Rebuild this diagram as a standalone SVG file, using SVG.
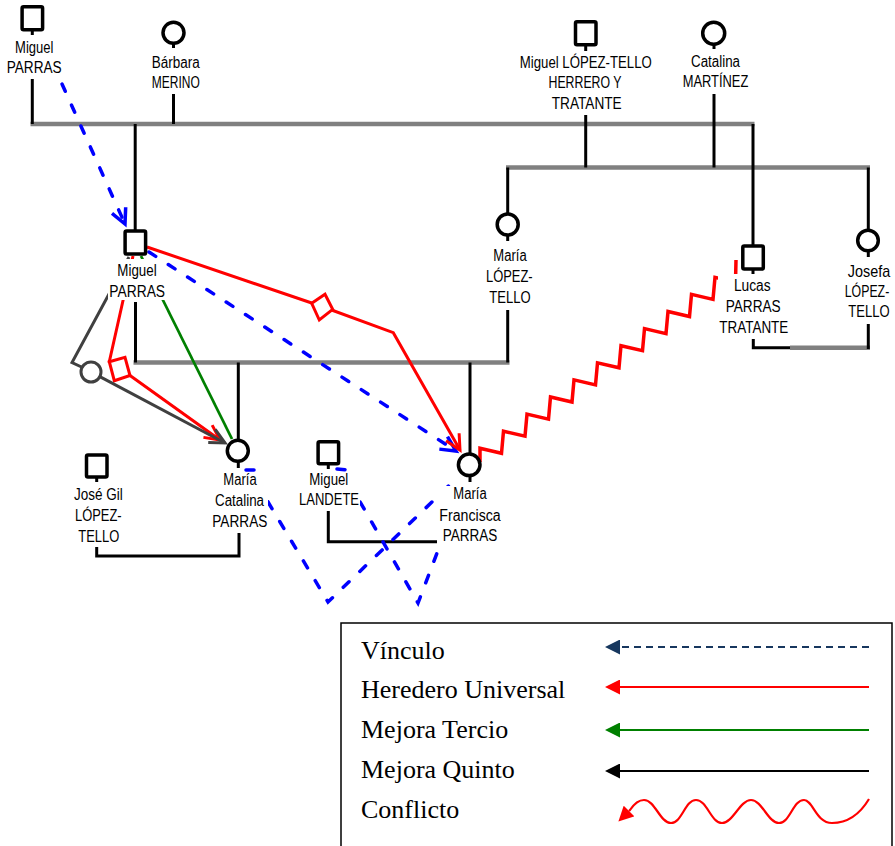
<svg xmlns="http://www.w3.org/2000/svg" width="895" height="846" viewBox="0 0 895 846">
<style>
.lbl{font-family:"Liberation Sans",Arial,sans-serif;font-size:16px;fill:#000;text-anchor:middle}
.leg{font-family:"Liberation Serif","Times New Roman",serif;font-size:26px;fill:#000}
.gl{stroke:#808080;stroke-width:4.5;fill:none}
.bl{stroke:#000;stroke-width:3;fill:none}
.sq{fill:#fff;stroke:#000;stroke-width:3.5}
.ci{fill:#fff;stroke:#000;stroke-width:3.5}
.bg{fill:#fff}
.blue{stroke:#0000ff;stroke-width:3.5;stroke-dasharray:8 15;stroke-linecap:round;fill:none}
.red{stroke:#ff0000;stroke-width:3;fill:none}
.zig{stroke:#ff0000;stroke-width:3.5;fill:none}
.green{stroke:#008000;stroke-width:2.8;fill:none}
.dg{stroke:#404040;stroke-width:3;fill:none}
.lgl{stroke-width:2.2;fill:none}
</style>
<defs>
<marker id="vBlue" markerUnits="userSpaceOnUse" viewBox="-3 -3 21 21" markerWidth="21" markerHeight="21" refX="15" refY="7.5" orient="auto" overflow="visible"><path d="M0,0 L15,7.5 L0,15" fill="none" stroke="#0000ff" stroke-width="3.5" stroke-dasharray="none"/></marker>
<marker id="vRed" markerUnits="userSpaceOnUse" viewBox="-3 -3 21 21" markerWidth="21" markerHeight="21" refX="15" refY="7.5" orient="auto" overflow="visible"><path d="M0,0 L15,7.5 L0,15" fill="none" stroke="#ff0000" stroke-width="3"/></marker>
<marker id="vGray" markerUnits="userSpaceOnUse" viewBox="-3 -3 21 21" markerWidth="21" markerHeight="21" refX="15" refY="7.5" orient="auto" overflow="visible"><path d="M0,0 L15,7.5 L0,15" fill="none" stroke="#404040" stroke-width="3"/></marker>
<marker id="tNavy" markerUnits="userSpaceOnUse" viewBox="0 0 15 15" markerWidth="15" markerHeight="15" refX="0" refY="7.5" orient="auto"><path d="M0,0 L15,7.5 L0,15 z" fill="#17375e"/></marker>
<marker id="tRed" markerUnits="userSpaceOnUse" viewBox="0 0 15 15" markerWidth="15" markerHeight="15" refX="0" refY="7.5" orient="auto"><path d="M0,0 L15,7.5 L0,15 z" fill="#ff0000"/></marker>
<marker id="tGreen" markerUnits="userSpaceOnUse" viewBox="0 0 15 15" markerWidth="15" markerHeight="15" refX="0" refY="7.5" orient="auto"><path d="M0,0 L15,7.5 L0,15 z" fill="#008000"/></marker>
<marker id="tBlack" markerUnits="userSpaceOnUse" viewBox="0 0 15 15" markerWidth="15" markerHeight="15" refX="0" refY="7.5" orient="auto"><path d="M0,0 L15,7.5 L0,15 z" fill="#000"/></marker>
</defs>

<g id="connectors">
  <g id="kinship">
    <line class="gl" x1="30.5" y1="124" x2="754.5" y2="124"/>
    <line class="gl" x1="506" y1="167.5" x2="870" y2="167.5"/>
    <line class="gl" x1="133.5" y1="362.5" x2="509.5" y2="362.5"/>
    <line class="gl" x1="790" y1="347.7" x2="870" y2="347.7"/>
    <line class="bl" x1="32.3" y1="79" x2="32.3" y2="124"/>
    <line class="bl" x1="173.5" y1="94" x2="173.5" y2="124"/>
    <line class="bl" x1="135.2" y1="124" x2="135.2" y2="230"/>
    <line class="bl" x1="585.7" y1="115" x2="585.7" y2="167.5"/>
    <line class="bl" x1="714" y1="94" x2="714" y2="167.5"/>
    <line class="bl" x1="753" y1="124" x2="753" y2="245"/>
    <line class="bl" x1="507.7" y1="167.5" x2="507.7" y2="213"/>
    <line class="bl" x1="868.3" y1="167.5" x2="868.3" y2="229"/>
    <line class="bl" x1="507.7" y1="310" x2="507.7" y2="362.5"/>
    <line class="bl" x1="135.5" y1="302" x2="135.5" y2="362.5"/>
    <line class="bl" x1="238.3" y1="362.5" x2="238.3" y2="440"/>
    <line class="bl" x1="470" y1="362.5" x2="470" y2="454"/>
    <polyline class="bl" points="753.3,339 753.3,347.7 790,347.7"/>
    <line class="bl" x1="868.3" y1="324" x2="868.3" y2="349"/>
    <polyline class="bl" points="96.7,547 96.7,556 239,556 239,533"/>
    <polyline class="bl" points="328.3,511 328.3,541.7 437,541.7"/>
  </g>
  <g id="relations">
    <path class="blue" d="M62,84 L125,224" marker-end="url(#vBlue)"/>
    <path class="blue" d="M149,252 L456,451" marker-end="url(#vBlue)"/>
    <path class="blue" d="M246,470 L259,470 L268,502 L328,602 L459,476"/>
    <path class="blue" d="M337,469 L349,470 L359,500 L418,603 L437,553 L441,543"/>
    <path class="red" d="M147,247 L322,306.5 L393.3,332.7 L460,450" marker-end="url(#vRed)"/>
    <polygon points="311.7,303.3 325,294.3 332.7,309.3 319.3,320" fill="#fff" stroke="#ff0000" stroke-width="3"/>
    <path class="red" d="M133,256 L109.3,361.7 L120,368.5 L130,375.5 L220,440" marker-end="url(#vRed)"/>
    <polygon points="109.3,361.7 125,357.3 130,375.5 114.3,380.7" fill="#fff" stroke="#ff0000" stroke-width="3"/>
    <path class="green" d="M141,256 L232,439"/>
    <path class="dg" d="M129,257 L72,362.5 L81.5,367"/>
    <circle cx="91" cy="372" r="10" fill="#fff" stroke="#404040" stroke-width="3"/>
    <path class="dg" d="M100.3,376.9 L225,443" marker-end="url(#vGray)"/>
    <path class="zig" d="M480,462 L480,448.3 L501.5,453.3 L503.5,431.2 L525,436.2 L527,414.1 L548.5,419.1 L550.5,397 L572,402 L574,379.9 L595.5,384.9 L597.5,362.8 L619,367.8 L621,345.7 L642.5,350.7 L644.5,328.6 L666,333.6 L668,311.5 L689.5,316.5 L691.5,294.4 L713,299.4 L715,277.3 L735.5,282 L736,260"/>
  </g>
</g>

<g id="n-miguel-parras-top">
  <rect class="sq" x="22.1" y="6.8" width="20.5" height="23" rx="1.5"/>
  <line class="bl" x1="32.3" y1="30" x2="32.3" y2="35"/>
  <text class="lbl" x="34.2" y="53.3" textLength="38.3" lengthAdjust="spacingAndGlyphs">Miguel</text>
  <text class="lbl" x="34.2" y="73.3" textLength="55" lengthAdjust="spacingAndGlyphs">PARRAS</text>
</g>
<g id="n-barbara-merino">
  <circle class="ci" cx="173.5" cy="32.8" r="10.5"/>
  <line class="bl" x1="173.5" y1="43" x2="173.5" y2="48"/>
  <text class="lbl" x="175.8" y="67.7" textLength="48" lengthAdjust="spacingAndGlyphs">Bárbara</text>
  <text class="lbl" x="175.8" y="88.3" textLength="48" lengthAdjust="spacingAndGlyphs">MERINO</text>
</g>
<g id="n-miguel-lopez-tello">
  <rect class="sq" x="575.5" y="21.8" width="20.5" height="23" rx="1.5"/>
  <line class="bl" x1="585.7" y1="45" x2="585.7" y2="51"/>
  <text class="lbl" x="585.8" y="68.3" textLength="132" lengthAdjust="spacingAndGlyphs">Miguel LÓPEZ-TELLO</text>
  <text class="lbl" x="585" y="88.3" textLength="73" lengthAdjust="spacingAndGlyphs">HERRERO Y</text>
  <text class="lbl" x="586.7" y="109" textLength="70" lengthAdjust="spacingAndGlyphs">TRATANTE</text>
</g>
<g id="n-catalina-martinez">
  <circle class="ci" cx="713.7" cy="33.3" r="11"/>
  <line class="bl" x1="714" y1="44" x2="714" y2="49"/>
  <text class="lbl" x="715.5" y="66.7" textLength="49" lengthAdjust="spacingAndGlyphs">Catalina</text>
  <text class="lbl" x="715.5" y="87.3" textLength="65.7" lengthAdjust="spacingAndGlyphs">MARTÍNEZ</text>
</g>
<g id="n-maria-lopez-tello">
  <circle class="ci" cx="507.7" cy="224.5" r="10.5"/>
  <line class="bl" x1="507.7" y1="235" x2="507.7" y2="241"/>
  <rect class="bg" x="488" y="246" width="42" height="61"/>
  <text class="lbl" x="510" y="261" textLength="33.3" lengthAdjust="spacingAndGlyphs">María</text>
  <text class="lbl" x="509.3" y="281.7" textLength="46.7" lengthAdjust="spacingAndGlyphs">LÓPEZ-</text>
  <text class="lbl" x="510" y="302.7" textLength="41.3" lengthAdjust="spacingAndGlyphs">TELLO</text>
</g>
<g id="n-josefa-lopez-tello">
  <circle class="ci" cx="868" cy="240.5" r="10.3"/>
  <line class="bl" x1="868.3" y1="250.5" x2="868.3" y2="257"/>
  <text class="lbl" transform="translate(869,276.7) scale(0.9,1)" x="0" y="0">Josefa</text>
  <text class="lbl" transform="translate(867,296.7) scale(0.77,1)" x="0" y="0">LÓPEZ-</text>
  <text class="lbl" transform="translate(869,317.3) scale(0.815,1)" x="0" y="0">TELLO</text>
</g>
<g id="n-lucas-parras">
  <rect class="sq" x="742.8" y="246" width="20.5" height="23" rx="1.5"/>
  <line class="bl" x1="753" y1="269" x2="753" y2="274"/>
  <rect class="bg" x="718" y="274" width="71" height="64"/>
  <text class="lbl" x="752.3" y="291" textLength="36.7" lengthAdjust="spacingAndGlyphs">Lucas</text>
  <text class="lbl" x="753.2" y="312.3" textLength="55" lengthAdjust="spacingAndGlyphs">PARRAS</text>
  <text class="lbl" x="753.8" y="332.7" textLength="69" lengthAdjust="spacingAndGlyphs">TRATANTE</text>
</g>
<g id="n-miguel-parras-mid">
  <rect class="sq" x="125.1" y="231.1" width="20.5" height="23" rx="1.5"/>
  <rect class="bg" x="108" y="259" width="58" height="41"/>
  <text class="lbl" x="137" y="276" textLength="39.3" lengthAdjust="spacingAndGlyphs">Miguel</text>
  <text class="lbl" x="137.2" y="297.3" textLength="55.7" lengthAdjust="spacingAndGlyphs">PARRAS</text>
</g>
<g id="n-jose-gil-lopez-tello">
  <rect class="sq" x="86.5" y="455" width="20.5" height="22" rx="1.5"/>
  <line class="bl" x1="96.7" y1="477" x2="96.7" y2="482"/>
  <text class="lbl" x="98.3" y="500" textLength="48.7" lengthAdjust="spacingAndGlyphs">José Gil</text>
  <text class="lbl" x="98.3" y="521" textLength="46.7" lengthAdjust="spacingAndGlyphs">LÓPEZ-</text>
  <text class="lbl" x="98.8" y="541.7" textLength="41" lengthAdjust="spacingAndGlyphs">TELLO</text>
</g>
<g id="n-maria-catalina-parras">
  <circle class="ci" cx="237.8" cy="450.8" r="10.5"/>
  <line class="bl" x1="238.3" y1="461" x2="238.3" y2="468"/>
  <rect class="bg" x="211" y="472" width="57" height="59"/>
  <text class="lbl" x="240" y="485" textLength="33.3" lengthAdjust="spacingAndGlyphs">María</text>
  <text class="lbl" x="239.5" y="506" textLength="49" lengthAdjust="spacingAndGlyphs">Catalina</text>
  <text class="lbl" x="239.8" y="526.7" textLength="55" lengthAdjust="spacingAndGlyphs">PARRAS</text>
</g>
<g id="n-miguel-landete">
  <rect class="sq" x="318.1" y="441.8" width="20.5" height="22" rx="1.5"/>
  <line class="bl" x1="328.3" y1="463.8" x2="328.3" y2="469"/>
  <rect class="bg" x="298" y="472" width="62" height="38"/>
  <text class="lbl" x="328.8" y="485" textLength="39" lengthAdjust="spacingAndGlyphs">Miguel</text>
  <text class="lbl" x="329" y="505" textLength="60" lengthAdjust="spacingAndGlyphs">LANDETE</text>
</g>
<g id="n-maria-francisca-parras">
  <circle class="ci" cx="469.2" cy="464.8" r="10.8"/>
  <line class="bl" x1="470" y1="475.5" x2="470" y2="482"/>
  <rect class="bg" x="439" y="486" width="62" height="60"/>
  <text class="lbl" x="470" y="499.3" textLength="33.3" lengthAdjust="spacingAndGlyphs">María</text>
  <text class="lbl" x="470" y="520.7" textLength="61.3" lengthAdjust="spacingAndGlyphs">Francisca</text>
  <text class="lbl" x="470" y="541" textLength="54.7" lengthAdjust="spacingAndGlyphs">PARRAS</text>
</g>

<g id="legend">
  <rect x="341" y="623" width="551" height="240" fill="#fff" stroke="#000" stroke-width="1.5"/>
  <text class="leg" x="361" y="659">Vínculo</text>
  <text class="leg" x="361" y="698">Heredero Universal</text>
  <text class="leg" x="361" y="738">Mejora Tercio</text>
  <text class="leg" x="361" y="778">Mejora Quinto</text>
  <text class="leg" x="361" y="818">Conflicto</text>
  <path class="lgl" d="M869,647 L620,647" stroke="#17375e" stroke-dasharray="7 5" marker-end="url(#tNavy)"/>
  <path class="lgl" d="M869,687 L620,687" stroke="#ff0000" marker-end="url(#tRed)"/>
  <path class="lgl" d="M869,730 L620,730" stroke="#008000" marker-end="url(#tGreen)"/>
  <path class="lgl" d="M869,771 L620,771" stroke="#000" marker-end="url(#tBlack)"/>
  <path class="lgl" stroke="#ff0000" d="M869,799 C860,814 848,823 832,823 C816,823 813,800 804,800 C793,800 790,823 779,823 C768,823 762,800 751,800 C740,800 733,823 722,823 C711,823 707,800 696,800 C685,800 682,823 671,823 C660,823 655,800 644,800 C638,800 634,804 630,810 L629,811" marker-end="url(#tRed)"/>
</g>
</svg>
